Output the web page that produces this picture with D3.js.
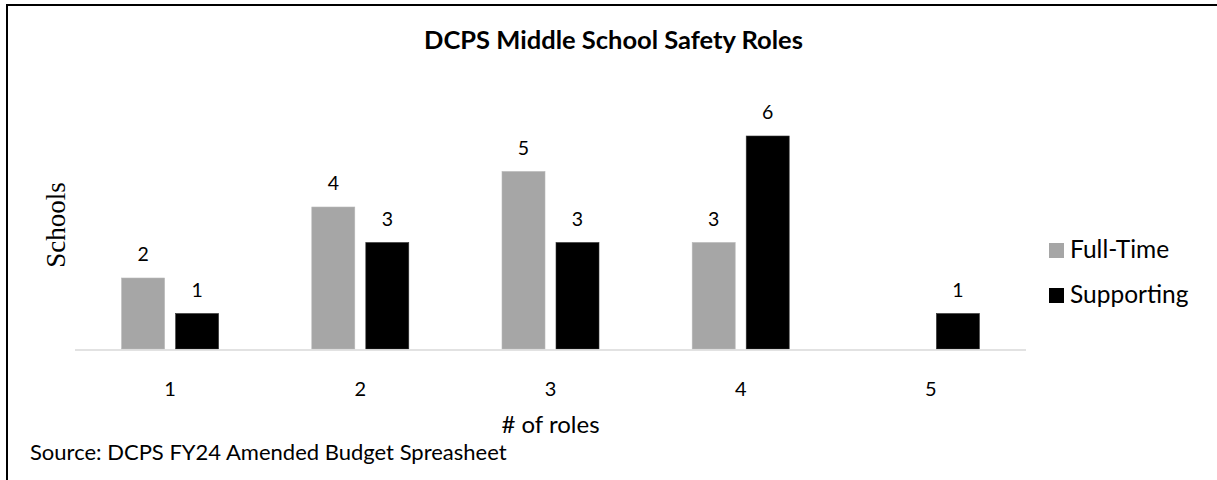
<!DOCTYPE html>
<html>
<head>
<meta charset="utf-8">
<script src="https://cdn.jsdelivr.net/npm/d3@7"></script>
<style>
  html, body { margin: 0; padding: 0; background: #fff; }
  svg { display: block; }
  text { font-family: Lato, "Open Sans", sans-serif; fill: #000; }
</style>
</head>
<body>
<svg id="chart" width="1217" height="480"></svg>
<script>
const categories = ["1", "2", "3", "4", "5"];
const seriesNames = ["Full-Time", "Supporting"];
const fullTime = [2, 4, 5, 3, 0];
const supporting = [1, 3, 3, 6, 1];
const seriesColors = ["#a6a6a6", "#000000"];
const titleText = "DCPS Middle School Safety Roles";
const xTitle = "# of roles";
const yTitle = "Schools";
const sourceText = "Source: DCPS FY24 Amended Budget Spreasheet";

const svg = d3.select("#chart");
const W = 1217, H = 480;

// frame (top and left border)
svg.append("path")
  .attr("d", `M7,${H} L7,5 L${W},5`)
  .attr("fill", "none").attr("stroke", "#000").attr("stroke-width", 2);

const plot = { left: 75, right: 1026, top: 100.5, bottom: 349 };

const x = d3.scaleBand().domain(categories).range([plot.left, plot.right]).paddingInner(0).paddingOuter(0);
const groupW = 97;
const xs = d3.scaleBand().domain(seriesNames).range([0, groupW]).paddingInner(0.204).paddingOuter(0);
const y = d3.scaleLinear().domain([0, 7]).range([plot.bottom, plot.top]);

const data = [];
categories.forEach((c, i) => {
  data.push({ cat: c, series: seriesNames[0], value: fullTime[i], color: seriesColors[0] });
  data.push({ cat: c, series: seriesNames[1], value: supporting[i], color: seriesColors[1] });
});

const barX = d => x(d.cat) + x.bandwidth() / 2 - groupW / 2 + xs(d.series);

const shown = data.filter(d => d.value > 0);
svg.append("g").selectAll("rect").data(shown).join("rect")
  .attr("x", barX)
  .attr("y", d => y(d.value))
  .attr("width", xs.bandwidth())
  .attr("height", d => y(0) - y(d.value))
  .attr("fill", d => d.color)
  .attr("stroke", d => d.series === "Full-Time" ? "#b8b8b8" : "#333")
  .attr("stroke-width", 0.6);

// baseline
svg.append("line")
  .attr("x1", plot.left).attr("x2", plot.right)
  .attr("y1", y(0) + 1).attr("y2", y(0) + 1)
  .attr("stroke", "#d9d9d9").attr("stroke-width", 1.5);

// data labels
svg.append("g").selectAll("text").data(shown).join("text")
  .attr("x", d => barX(d) + xs.bandwidth() / 2)
  .attr("y", d => y(d.value) - 17)
  .attr("text-anchor", "middle")
  .attr("font-size", 19.5)
  .text(d => d.value);

// x axis tick labels
const xAxis = d3.axisBottom(x).tickSize(0).tickPadding(0);
const gx = svg.append("g").attr("transform", `translate(0,${y(0)})`).call(xAxis);
gx.select(".domain").remove();
gx.selectAll("text")
  .attr("dy", null)
  .attr("y", 47)
  .attr("font-size", 20)
  .attr("font-family", "Lato, sans-serif")
  .attr("fill", "#000");

// axis titles
svg.append("text")
  .attr("x", (plot.left + plot.right) / 2).attr("y", 433)
  .attr("text-anchor", "middle").attr("font-size", 24)
  .text(xTitle);

svg.append("text")
  .attr("transform", "translate(65,225) rotate(-90)")
  .attr("text-anchor", "middle")
  .attr("font-size", 27)
  .style("font-family", "'Liberation Serif', 'DejaVu Serif', serif")
  .text(yTitle);

// title
svg.append("text")
  .attr("x", 613.5).attr("y", 49)
  .attr("text-anchor", "middle")
  .attr("font-size", 25.5).attr("font-weight", "bold")
  .text(titleText);

// legend
const legend = svg.append("g");
seriesNames.forEach((s, i) => {
  const ly = 243 + i * 45;
  legend.append("rect").attr("x", 1049).attr("y", ly).attr("width", 15).attr("height", 15)
    .attr("fill", seriesColors[i]);
  legend.append("text").attr("x", 1070).attr("y", ly + 14.5)
    .attr("font-size", 24.5).text(s);
});

// source
svg.append("text")
  .attr("x", 30).attr("y", 460)
  .attr("font-size", 22)
  .text(sourceText);
</script>
</body>
</html>
